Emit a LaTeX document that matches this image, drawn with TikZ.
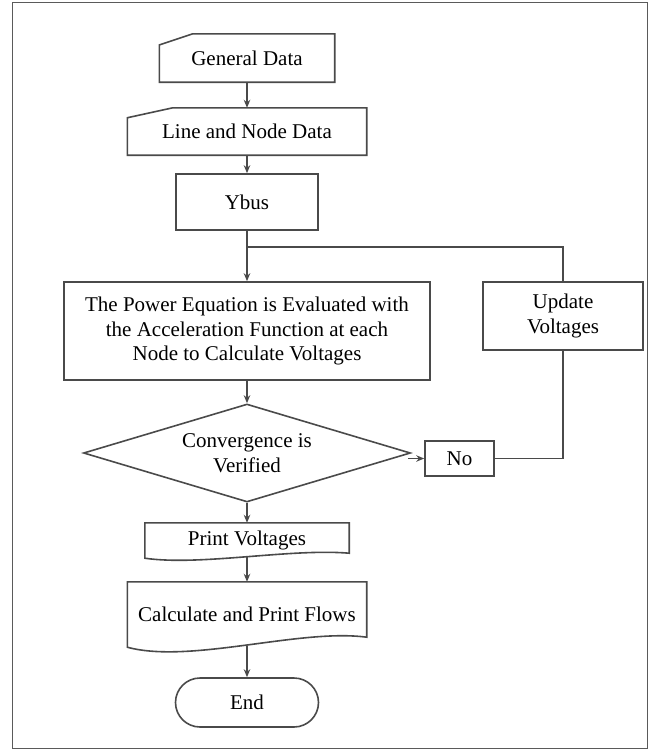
\documentclass[tikz,border=0pt]{standalone}
\usepackage{fontspec}
\setmainfont{Liberation Serif}
\usetikzlibrary{calc,arrows.meta,shapes.geometric}
\definecolor{edge}{HTML}{4A4A4A}
\definecolor{framec}{HTML}{5A5A5A}

\begin{document}
\begin{tikzpicture}[x=1pt,y=-1pt,>={Stealth[length=8pt,width=6.5pt]},
  font=\fontsize{21}{24.5}\selectfont,
  every node/.style={inner sep=0pt,align=center},
  flow/.style={line width=1.6pt,draw=edge},
  stepbox/.style={rectangle,draw=edge,line width=1.6pt,minimum width=#1},
  shell/.style={rectangle,minimum width=#1}]
\useasboundingbox (0,0) rectangle (649,750);
\draw[framec,line width=1pt] (12,2) rectangle (647,748);
% input blocks (manual input outline drawn round the nodes)
\node[shell=175pt,minimum height=48pt] (gen) at (247,58) {General Data};
\draw[flow] (gen.south west) -- ($(gen.north west)!0.23!(gen.south west)$) -- ($(gen.north west)!0.19!(gen.north east)$) -- (gen.north east) -- (gen.south east) -- cycle;
\node[shell=239pt,minimum height=47pt] (lnd) at (247,131.5) {Line and Node Data};
\draw[flow] (lnd.south west) -- ($(lnd.north west)!0.21!(lnd.south west)$) -- ($(lnd.north west)!0.19!(lnd.north east)$) -- (lnd.north east) -- (lnd.south east) -- cycle;
% process blocks
\node[stepbox=142pt,minimum height=56pt] (ybus) at (247,202) {Ybus};
\node[stepbox=366pt,minimum height=98pt] (main) at (247,331) {The Power Equation is Evaluated with\\the Acceleration Function at each\\Node to Calculate Voltages};
\node[stepbox=160pt,minimum height=68pt] (upd) at (563,316) {Update\\Voltages};
\node[diamond,aspect=3.3,draw=edge,line width=1.6pt,minimum width=327pt,minimum height=98pt] (dia) at (247,453) {Convergence is\\Verified};
\node[stepbox=69pt,minimum height=35pt] (no) at (459.5,458.5) {No};
% output blocks (document outline with wavy bottom)
\node[shell=204pt,minimum height=34pt] (pv) at (247,540) {Print Voltages};
\draw[flow] (pv.north west) -- (pv.north east) -- ($(pv.south east)+(0,-4)$) .. controls ($(pv.south)+(43,-9)$) and ($(pv.south)+(-47,9)$) .. ($(pv.south west)+(0,1)$) -- cycle;
\node[shell=239pt,minimum height=64pt] (calc) at (247,614) {Calculate and Print Flows};
\draw[flow] (calc.north west) -- (calc.north east) -- ($(calc.south east)+(0,-9)$) .. controls ($(calc.south)+(53,-18)$) and ($(calc.south)+(-57,18)$) .. ($(calc.south west)+(0,1)$) -- cycle;
\node[stepbox=143pt,minimum height=49pt,rounded corners=24.5pt] (fin) at (247,702.5) {End};
% connectors
\coordinate (join) at ($(ybus.south)+(0,16)$);
\draw[flow,->] (gen.south) -- (lnd.north);
\draw[flow,->] (lnd.south) -- (ybus.north);
\draw[flow,->] (ybus.south) -- (main.north);
\draw[flow] (upd.north) |- (join);
\draw[flow,->] (main.south) -- (dia.north);
\draw[flow,->] ($(dia.east |- no.west)+(-3,0)$) -- (no.west);
\draw[flow] (no.east) -| (upd.south);
\draw[flow,->] (dia.south) -- (pv.north);
\draw[flow,->] (pv.south) -- (calc.north);
\draw[flow,->] (calc.south) -- (fin.north);
\end{tikzpicture}
\end{document}
